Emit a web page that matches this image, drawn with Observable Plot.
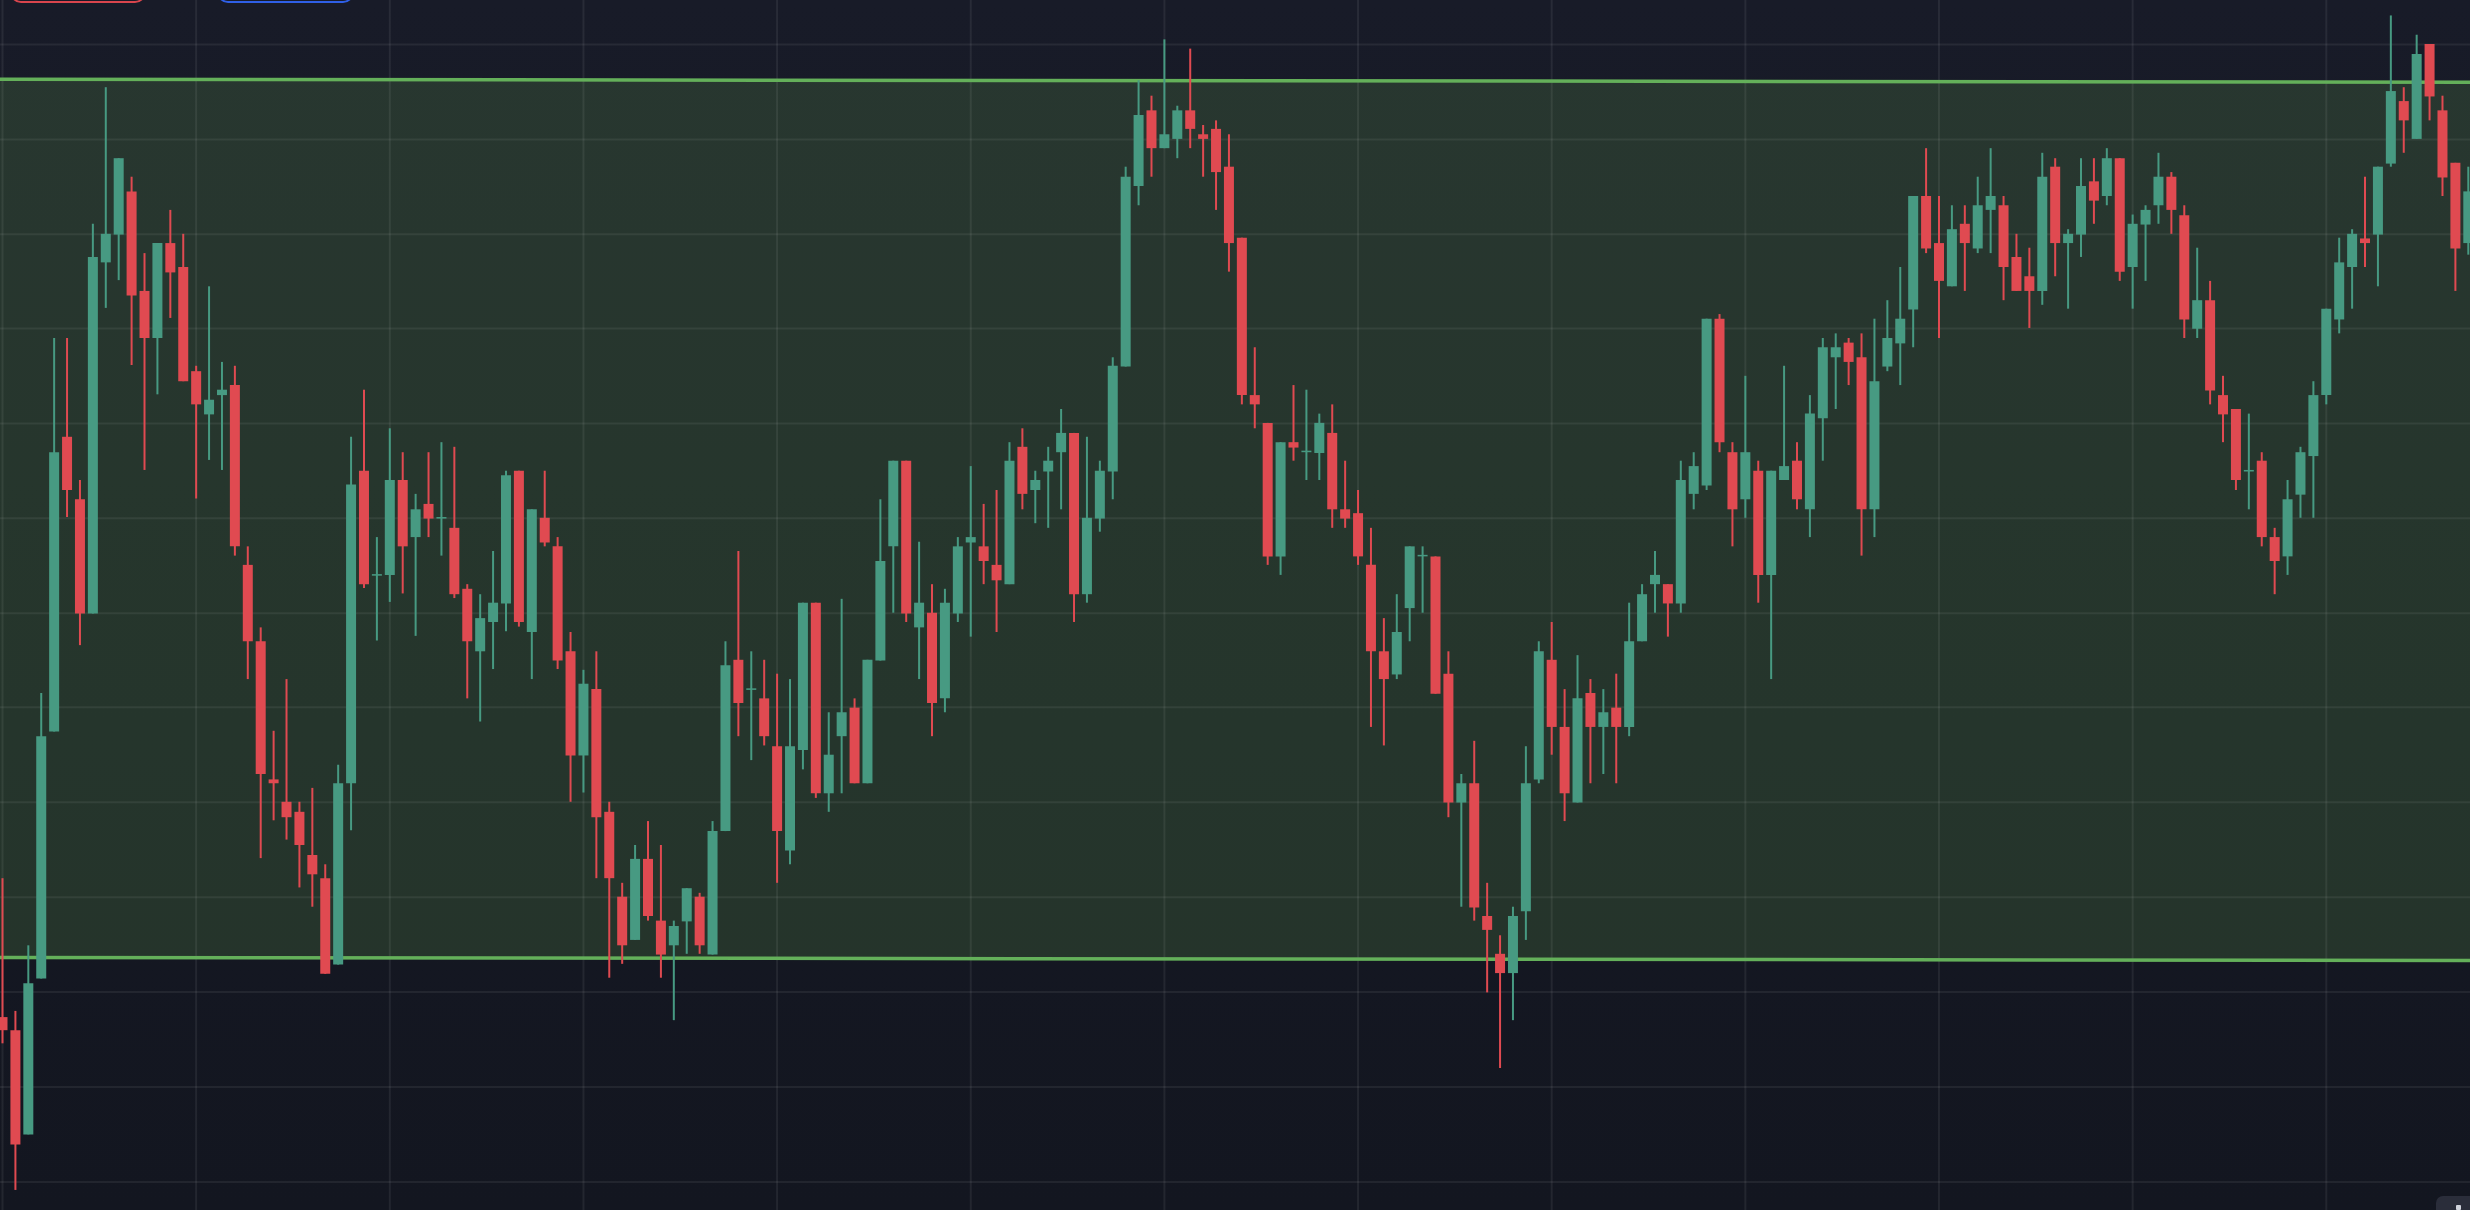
<!DOCTYPE html>
<html>
<head>
<meta charset="utf-8">
<script src="https://cdn.jsdelivr.net/npm/d3@7"></script>
<script src="https://cdn.jsdelivr.net/npm/@observablehq/plot@0.6"></script>
<style>
  html, body { margin: 0; padding: 0; width: 2470px; height: 1210px; overflow: hidden;
    background: linear-gradient(#181b28, #131620); font-family: "Noto Sans", sans-serif; }
  #chart { position: absolute; left: 0; top: 0; }
  .btn { position: absolute; top: -37px; height: 40px; border-radius: 11px; border: 2px solid; box-sizing: border-box; }
  #btnRed { left: 10px; width: 136px; border-color: #d9454d; }
  #btnBlue { left: 217px; width: 137px; border-color: #2f5fe6; }
  #corner { position: absolute; left: 2436px; top: 1196px; width: 40px; height: 20px; background: #2a2d3a; border-radius: 7px 0 0 0; }
  #corner span { position: absolute; left: 20px; top: 9px; width: 5px; height: 5px; background: #d0d3dc; border-radius: 1px; }
</style>
</head>
<body>
<div id="chart"></div>
<div class="btn" id="btnRed"></div>
<div class="btn" id="btnBlue"></div>
<div id="corner"><span></span></div>
<script>
// OHLC values (price points), one entry per bar
const open = [250,233,98,300,620,1002,921,773,1228,1264,1320,1191,1130,1253,1222,1087,1031,1056,1069,836,
737,558,529,516,460,430,318,553,958,822,823,946,872,915,896,884,805,724,762,786,
958,749,897,860,724,589,675,516,406,350,455,375,343,374,406,331,491,713,674,663,
601,466,596,787,540,614,651,553,712,860,971,755,774,663,773,865,860,836,811,989,
933,957,982,1007,798,896,957,1093,1327,1425,1376,1388,1425,1394,1401,1352,1260,1056,1020,847,
995,982,981,1007,908,903,836,724,694,780,847,847,695,528,553,381,332,307,387,558,
713,626,528,670,626,651,626,737,811,811,786,928,939,1155,982,921,958,823,946,971,
908,1026,1105,1124,1105,908,1093,1123,1167,1314,1253,1197,1278,1246,1296,1302,1235,1210,1191,1352,
1253,1264,1333,1314,1363,1222,1277,1302,1339,1289,1142,1179,1056,1038,957,971,872,847,927,977,
1056,1154,1222,1259,1264,1356,1437,1388,1511,1425,1357,1253];
const high = [430,258,343,670,1130,1130,946,1278,1455,1363,1339,1240,1253,1296,1265,1094,1197,1099,1094,860,
755,621,688,529,547,448,577,1002,1063,872,1013,982,928,982,995,989,811,798,854,958,
958,908,958,872,749,700,724,529,424,473,504,473,375,417,411,504,737,854,724,713,
695,688,787,787,645,792,663,713,921,971,971,866,811,805,872,964,915,933,995,1013,
958,989,1038,1007,1002,971,1105,1352,1464,1444,1517,1431,1505,1406,1412,1394,1260,1118,1020,995,
1069,1063,1032,1044,971,933,884,767,798,860,860,847,724,565,608,424,356,393,601,737,
762,675,719,688,675,695,787,811,854,811,971,982,1155,1161,995,1081,971,958,1094,995,
1056,1130,1136,1130,1136,1155,1179,1222,1314,1376,1314,1302,1302,1339,1376,1314,1265,1247,1370,1363,
1271,1363,1363,1376,1363,1290,1302,1370,1345,1302,1247,1204,1081,1038,1032,982,884,946,989,1074,
1168,1260,1271,1339,1352,1548,1455,1523,1511,1444,1357,1352];
const low = [216,26,98,300,620,898,732,773,1169,1205,1095,959,1057,1156,1074,922,972,959,848,688,
456,505,480,418,393,306,318,492,806,738,788,799,744,872,848,793,663,633,701,750,
756,688,860,701,529,541,430,301,319,350,375,301,246,332,332,331,491,614,583,602,
424,448,571,534,516,540,553,553,712,774,762,688,614,645,762,743,811,749,811,908,
890,884,908,762,787,879,921,1093,1302,1339,1376,1363,1376,1339,1296,1216,1044,1013,836,823,
971,946,946,884,884,836,626,602,688,737,774,669,509,393,375,282,184,246,350,553,
590,504,528,553,565,553,614,737,774,743,774,908,933,982,860,897,787,688,946,908,
872,971,1038,1069,848,872,1087,1069,1118,1240,1130,1197,1191,1240,1240,1179,1191,1143,1173,1210,
1168,1235,1278,1302,1204,1168,1204,1278,1265,1130,1130,1044,995,933,908,860,798,823,897,897,
1044,1136,1168,1222,1197,1352,1370,1388,1412,1314,1191,1238];
const close = [233,85,294,614,982,933,773,1235,1265,1363,1185,1130,1253,1215,1074,1044,1050,1063,860,737,
565,553,509,473,435,306,553,940,811,824,946,860,908,896,898,798,737,767,787,952,
762,908,865,712,589,682,509,430,343,455,381,331,368,417,343,491,706,657,676,614,
491,601,787,540,590,645,553,713,841,971,773,787,657,787,860,872,841,816,971,928,
946,971,1007,798,897,958,1094,1339,1419,1376,1394,1425,1401,1388,1345,1253,1056,1044,847,995,
988,984,1020,908,896,847,724,688,749,860,849,669,528,553,392,363,307,381,553,724,
626,540,663,626,645,626,737,798,823,786,946,964,1155,995,908,982,823,958,964,921,
1032,1118,1118,1099,908,1074,1130,1155,1314,1246,1204,1271,1253,1302,1314,1222,1191,1191,1339,1253,
1265,1327,1308,1363,1216,1278,1296,1339,1296,1154,1179,1062,1031,946,959,872,841,921,982,1056,
1168,1228,1265,1253,1352,1450,1412,1498,1443,1338,1246,1320];

// channel (parallel trend lines) anchors: bar index and price
const channelBars = [-0.2, 191.2];
const channelTop = [1466, 1462];
const channelBottom = [328, 324];

// grid levels
const gridBars = [0, 15, 30, 45, 60, 75, 90, 105, 120, 135, 150, 165, 180];
const gridPrices = [1511, 1388, 1265, 1143, 1020, 897, 774, 652, 529, 406, 283, 160, 37];

const candles = open.map((o, i) => ({i, open: o, high: high[i], low: low[i], close: close[i]}));
const channel = channelBars.map((b, k) => ({b, top: channelTop[k], bottom: channelBottom[k]}));

const UP = "#479a82", DOWN = "#e04a51";
const col = d => d.close >= d.open ? UP : DOWN;

const chart = Plot.plot({
  width: 2470,
  height: 1210,
  margin: 0,
  style: {background: "transparent", overflow: "hidden"},
  x: {domain: [-0.155, 191.17], axis: null},
  y: {domain: [0, 1568], axis: null},
  marks: [
    Plot.areaY(channel, {x: "b", y1: "bottom", y2: "top", fill: "#6aa84f", fillOpacity: 0.2}),
    Plot.ruleX(gridBars, {stroke: "#ffffff", strokeOpacity: 0.07, strokeWidth: 2}),
    Plot.ruleY(gridPrices, {stroke: "#ffffff", strokeOpacity: 0.065, strokeWidth: 2}),
    Plot.line(channel, {x: "b", y: "top", stroke: "#64b05a", strokeWidth: 3.5}),
    Plot.line(channel, {x: "b", y: "bottom", stroke: "#64b05a", strokeWidth: 3.5}),
    Plot.ruleX(candles, {x: "i", y1: "low", y2: "high", stroke: col, strokeWidth: 2}),
    Plot.ruleX(candles, {x: "i", y1: "open", y2: "close", stroke: col, strokeWidth: 10})
  ]
});
document.getElementById("chart").appendChild(chart);
</script>
</body>
</html>
